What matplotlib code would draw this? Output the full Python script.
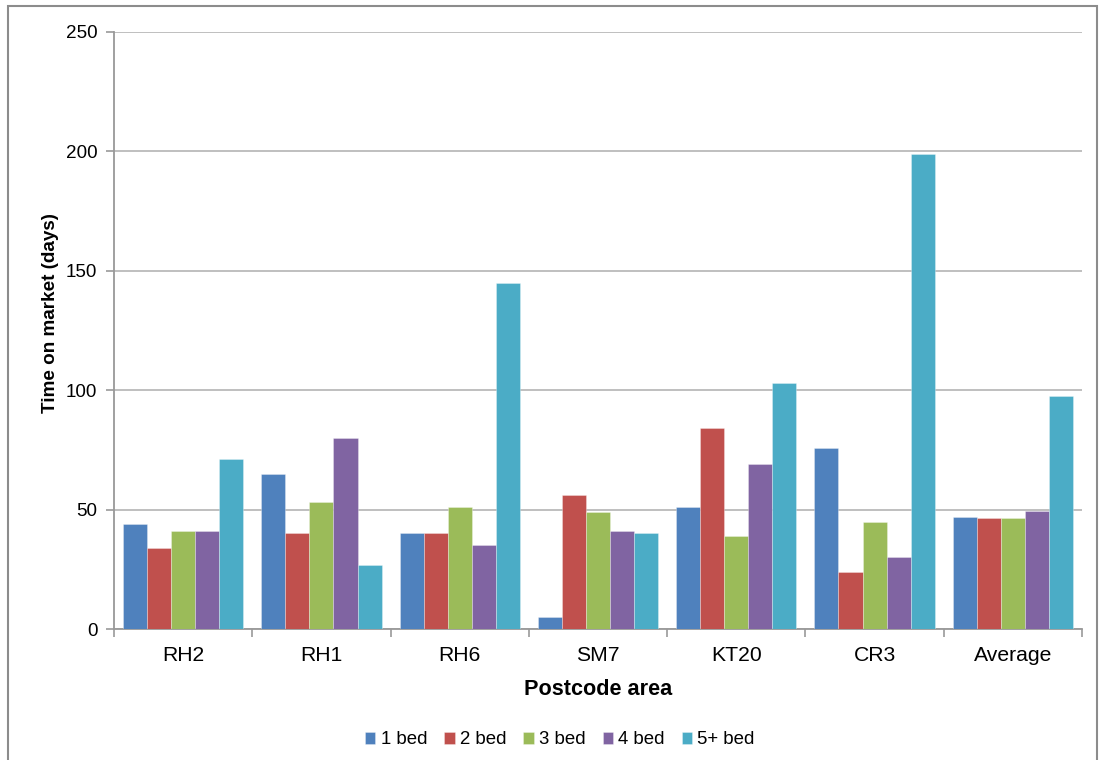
import matplotlib
matplotlib.use("Agg")
import matplotlib.pyplot as plt
import numpy as np
from matplotlib.patches import Rectangle

plt.rcParams['font.family'] = ['Liberation Sans', 'DejaVu Sans']

areas = ["RH2", "RH1", "RH6", "SM7", "KT20", "CR3", "Average"]
series_names = ["1 bed", "2 bed", "3 bed", "4 bed", "5+ bed"]
bed1 = [44, 65, 40, 5, 51, 76, 46.8]
bed2 = [34, 40, 40, 56, 84, 24, 46.3]
bed3 = [41, 53, 51, 49, 39, 45, 46.3]
bed4 = [41, 80, 35, 41, 69, 30, 49.3]
bed5 = [71, 27, 145, 40, 103, 199, 97.5]
colors = ["#4F81BD", "#C0504D", "#9BBB59", "#8064A2", "#4BACC6"]
yticks = [0, 50, 100, 150, 200, 250]

fig = plt.figure(figsize=(11, 7.6), dpi=100)
ax = fig.add_axes([114 / 1100, 1 - 629 / 760, (1082 - 114) / 1100, (629 - 32) / 760])

x = np.arange(len(areas))
group_w = 0.87
bw = group_w / 5
for i, (vals, name, c) in enumerate(zip([bed1, bed2, bed3, bed4, bed5], series_names, colors)):
    ax.bar(x - group_w / 2 + bw * (i + 0.5), vals, width=bw, color=c, label=name,
           edgecolor=(1, 1, 1, 0.35), linewidth=0.6, zorder=3)

ax.set_xlim(-0.5, len(areas) - 0.5)
ax.set_ylim(0, 250)
ax.set_yticks(yticks)
ax.set_yticklabels([str(t) for t in yticks], fontsize=13.6)
ax.grid(axis='y', color='#bfbfbf', linewidth=1.4, zorder=0)
ax.set_axisbelow(True)

ax.set_xticks(x)
ax.set_xticklabels(areas, fontsize=15.2)
ax.set_xticks(np.arange(len(areas) + 1) - 0.5, minor=True)
ax.tick_params(axis='x', which='major', length=0, pad=12)
ax.tick_params(axis='x', which='minor', length=6, width=1.2, color='#999999', direction='out')
ax.tick_params(axis='y', length=6, width=1.2, color='#999999', direction='out', pad=6)

for s in ['top', 'right']:
    ax.spines[s].set_visible(False)
for s in ['left', 'bottom']:
    ax.spines[s].set_color('#999999')
    ax.spines[s].set_linewidth(1.3)

ax.set_ylabel("Time on market (days)", fontsize=13.6, fontweight='bold', va='center')
ax.yaxis.set_label_coords(-0.066, 0.53)
ax.set_xlabel("Postcode area", fontsize=15.6, fontweight='bold', labelpad=10)

leg = fig.legend(loc='center', bbox_to_anchor=(560 / 1100, 1 - 740 / 760), ncol=5,
                 frameon=False, fontsize=13.4, handlelength=0.55, handleheight=0.55,
                 handletextpad=0.3, columnspacing=0.9)

fig.patches.append(Rectangle((8 / 1100, -0.02), (1097 - 8) / 1100, 1.02 - 6 / 760,
                             transform=fig.transFigure, fill=False,
                             edgecolor='#8c8c8c', linewidth=1.5))

fig.savefig("out.png", dpi=100)
